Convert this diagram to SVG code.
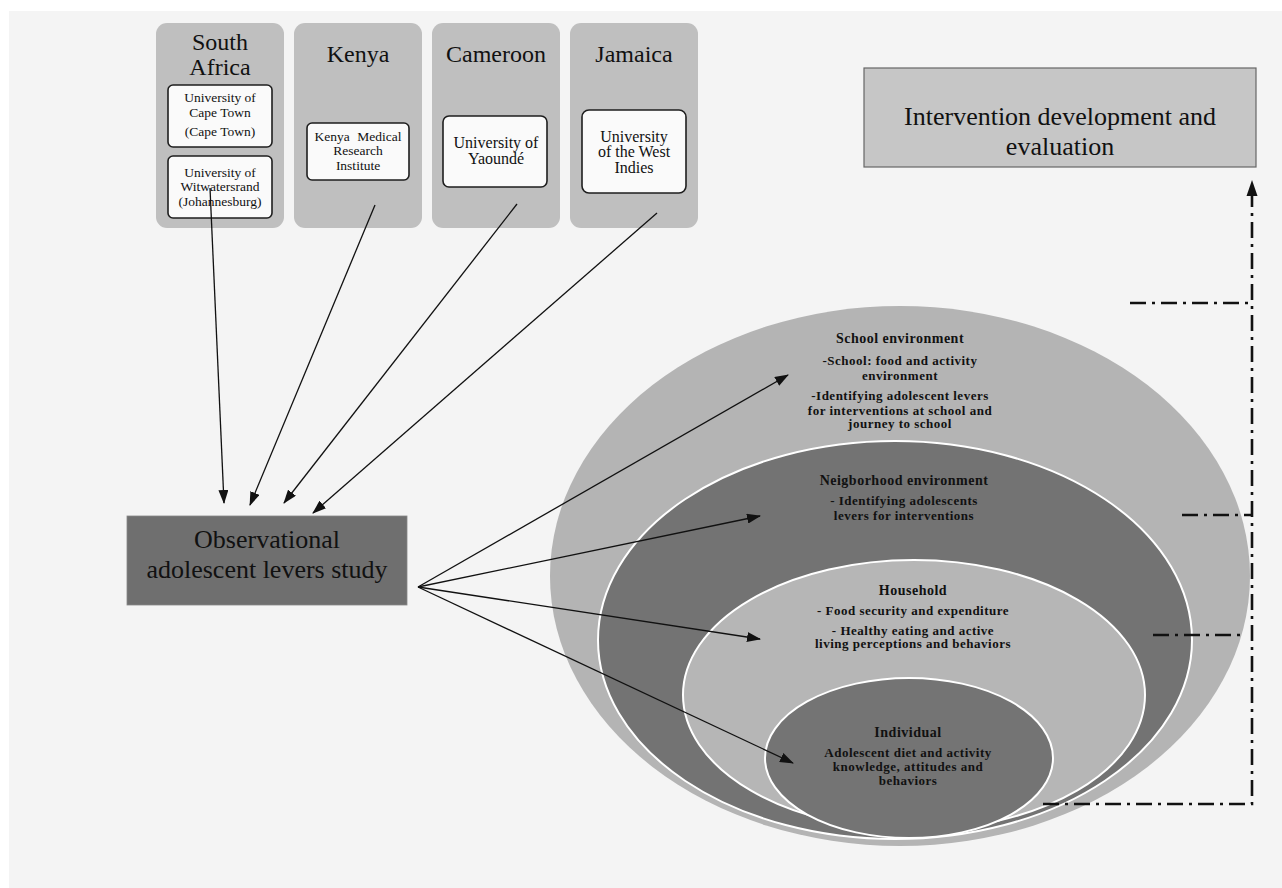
<svg xmlns="http://www.w3.org/2000/svg" width="1282" height="888" viewBox="0 0 1282 888">
<style>
.bg{fill:#f4f4f4}
.panel{fill:#bfbfbf}
.inner{fill:#fafafa;stroke:#1e1e1e;stroke-width:1.6}
.title{font-family:"Liberation Serif",serif;font-size:24px;fill:#111;text-anchor:middle}
.uni{font-family:"Liberation Serif",serif;font-size:13.5px;fill:#111;text-anchor:middle}
.uni16{font-family:"Liberation Serif",serif;font-size:16px;fill:#111;text-anchor:middle}
.big{font-family:"Liberation Serif",serif;font-size:26px;fill:#111;text-anchor:middle}
.eh{font-family:"Liberation Serif",serif;font-size:14px;font-weight:bold;letter-spacing:0.5px;fill:#111;text-anchor:middle}
.eb{font-family:"Liberation Serif",serif;font-size:13px;font-weight:bold;letter-spacing:0.5px;fill:#111;text-anchor:middle}
.arr{stroke:#111;stroke-width:1.3;fill:none;marker-end:url(#ah)}
.dd{stroke:#111;stroke-width:2.6;fill:none;stroke-dasharray:16 6 3 6}
</style>
<defs>
<marker id="ah" markerWidth="14" markerHeight="10" refX="13" refY="5" orient="auto" markerUnits="userSpaceOnUse">
<path d="M0,0 L14,5 L0,10 z" fill="#111"/>
</marker>
<marker id="ah2" markerWidth="14" markerHeight="12" refX="13" refY="6" orient="auto" markerUnits="userSpaceOnUse">
<path d="M0,0 L14,6 L0,12 z" fill="#111"/>
</marker>
</defs>
<rect x="0" y="0" width="1282" height="888" fill="#ffffff"/>
<rect class="bg" x="9" y="11" width="1273" height="877"/>

<g id="south-africa">
<rect class="panel" x="156" y="23" width="128" height="205" rx="11"/>
<text class="title" x="220" y="50">South</text>
<text class="title" x="220" y="75">Africa</text>
<rect class="inner" x="168" y="85" width="104" height="62" rx="5"/>
<text class="uni" x="220" y="102">University of</text>
<text class="uni" x="220" y="117">Cape Town</text>
<text class="uni" x="220" y="136">(Cape Town)</text>
<rect class="inner" x="168" y="156" width="104" height="62" rx="5"/>
<text class="uni" x="220" y="177">University of</text>
<text class="uni" x="220" y="191">Witwatersrand</text>
<text class="uni" x="220" y="206">(Johannesburg)</text>
</g>

<g id="kenya">
<rect class="panel" x="294" y="23" width="128" height="205" rx="11"/>
<text class="title" x="358" y="62">Kenya</text>
<rect class="inner" x="307" y="123" width="102" height="57" rx="5"/>
<text class="uni" x="358" y="141" word-spacing="4">Kenya Medical</text>
<text class="uni" x="358" y="155">Research</text>
<text class="uni" x="358" y="170">Institute</text>
</g>

<g id="cameroon">
<rect class="panel" x="432" y="23" width="128" height="205" rx="11"/>
<text class="title" x="496" y="62">Cameroon</text>
<rect class="inner" x="443" y="116" width="104" height="71" rx="6"/>
<text class="uni16" x="496" y="148">University of</text>
<text class="uni16" x="496" y="164">Yaoundé</text>
</g>

<g id="jamaica">
<rect class="panel" x="570" y="23" width="128" height="205" rx="11"/>
<text class="title" x="634" y="62">Jamaica</text>
<rect class="inner" x="582" y="110" width="104" height="83" rx="7"/>
<text class="uni16" x="634" y="142">University</text>
<text class="uni16" x="634" y="157">of the West</text>
<text class="uni16" x="634" y="173">Indies</text>
</g>

<g id="intervention">
<rect x="864" y="68" width="392" height="99" fill="#c6c6c6" stroke="#666" stroke-width="1.2"/>
<text class="big" x="1060" y="125">Intervention development and</text>
<text class="big" x="1060" y="155">evaluation</text>
</g>

<g id="observational">
<rect x="127" y="516" width="280" height="89" fill="#6f6f6f" stroke="#888" stroke-width="0.8"/>
<text class="big" x="267" y="548">Observational</text>
<text class="big" x="267" y="578">adolescent levers study</text>
</g>

<g id="school">
<ellipse cx="900" cy="576" rx="350" ry="270" fill="#b4b4b4"/>
<text class="eh" x="900" y="343">School environment</text>
<text class="eb" x="900" y="365">-School: food and activity</text>
<text class="eb" x="900" y="380">environment</text>
<text class="eb" x="900" y="400">-Identifying adolescent levers</text>
<text class="eb" x="900" y="415">for interventions at school and</text>
<text class="eb" x="900" y="428">journey to school</text>
</g>

<g id="neighborhood">
<ellipse cx="895" cy="640" rx="297" ry="199" fill="#737373" stroke="#ffffff" stroke-width="2"/>
<text class="eh" x="904" y="485">Neigborhood environment</text>
<text class="eb" x="904" y="505">- Identifying adolescents</text>
<text class="eb" x="904" y="520">levers for interventions</text>
</g>

<g id="household">
<ellipse cx="914" cy="695" rx="231" ry="135" fill="#b6b6b6" stroke="#ffffff" stroke-width="2"/>
<text class="eh" x="913" y="595">Household</text>
<text class="eb" x="913" y="615">- Food security and expenditure</text>
<text class="eb" x="913" y="635">- Healthy eating and active</text>
<text class="eb" x="913" y="648">living perceptions and behaviors</text>
</g>

<g id="individual">
<ellipse cx="909" cy="758" rx="144" ry="80" fill="#747474" stroke="#ffffff" stroke-width="2"/>
<text class="eh" x="908" y="737">Individual</text>
<text class="eb" x="908" y="757">Adolescent diet and activity</text>
<text class="eb" x="908" y="771">knowledge, attitudes and</text>
<text class="eb" x="908" y="785">behaviors</text>
</g>

<g id="connectors">
<line class="arr" x1="210" y1="188" x2="224" y2="503"/>
<line class="arr" x1="375" y1="205" x2="250" y2="505"/>
<line class="arr" x1="517" y1="204" x2="284" y2="503"/>
<line class="arr" x1="657" y1="213" x2="313" y2="513"/>
<line class="arr" x1="418" y1="587" x2="788" y2="375"/>
<line class="arr" x1="418" y1="587" x2="760" y2="516"/>
<line class="arr" x1="418" y1="587" x2="760" y2="639"/>
<line class="arr" x1="418" y1="587" x2="793" y2="763"/>
<path class="dd" d="M1043,804 L1252,804 L1252,195"/>
<path d="M1252,180 L1246.5,196 L1257.5,196 z" fill="#111"/>
<line class="dd" x1="1130" y1="303" x2="1252" y2="303"/>
<line class="dd" x1="1182" y1="515" x2="1252" y2="515"/>
<line class="dd" x1="1153" y1="635" x2="1241" y2="635"/>
</g>
</svg>
